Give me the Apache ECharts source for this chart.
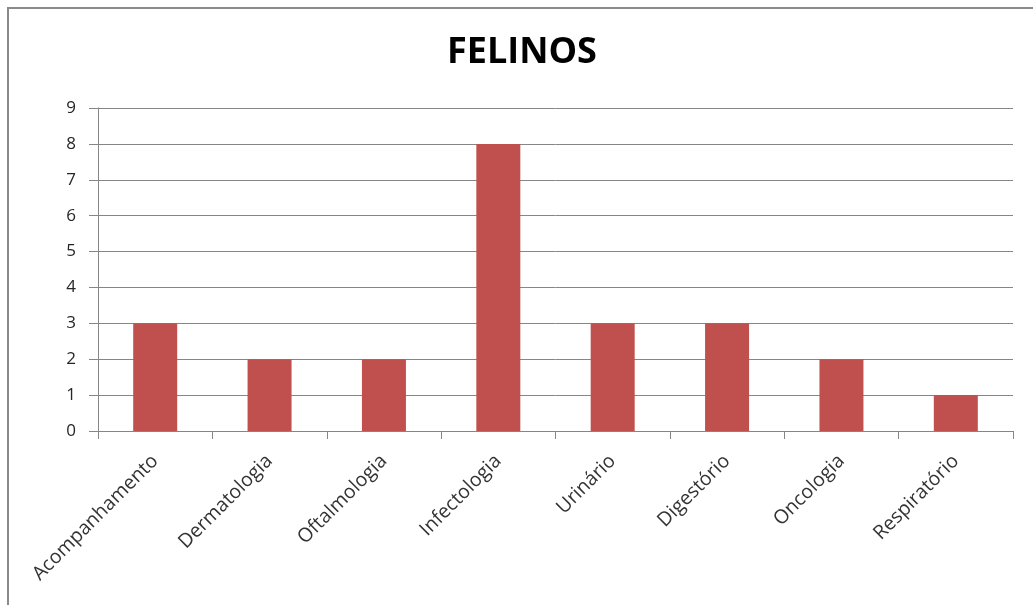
<!DOCTYPE html>
<html>
<head>
<meta charset="utf-8">
<script src="https://cdn.jsdelivr.net/npm/echarts@6/dist/echarts.min.js"></script>
<style>html,body{margin:0;padding:0;background:#fff;}#c{width:1033px;height:605px;}</style>
</head>
<body>
<div id="c"></div>
<script>
const categories = ['Acompanhamento','Dermatologia','Oftalmologia','Infectologia','Urinário','Digestório','Oncologia','Respiratório'];
const values = [3,2,2,8,3,3,2,1];
const yTicks = [0,1,2,3,4,5,6,7,8,9];

const chart = echarts.init(document.getElementById('c'));
chart.setOption({
  animation: false,
  backgroundColor: '#fff',
  title: {
    text: 'FELINOS', left: 442, top: 30,
    textStyle: { fontFamily: 'Open Sans', fontSize: 36, fontWeight: 'bold', color: '#000' }
  },
  graphic: [{
    type: 'rect', shape: { x: 8, y: 8, width: 1100, height: 700 },
    style: { fill: 'none', stroke: '#8a8a8a', lineWidth: 2 }, silent: true
  }],
  grid: { left: 98, right: 20, top: 108, bottom: 174 },
  xAxis: {
    type: 'category', data: categories,
    axisLine: { lineStyle: { color: '#868686', width: 1 } },
    axisTick: { show: true, alignWithLabel: false, length: 8, lineStyle: { color: '#868686' } },
    axisLabel: { rotate: 45, interval: 0, margin: 27, fontFamily: 'Open Sans', fontSize: 19.5, color: '#333333' }
  },
  yAxis: {
    type: 'value', min: yTicks[0], max: yTicks[yTicks.length-1], interval: 1,
    axisLine: { show: true, lineStyle: { color: '#868686' } },
    axisTick: { show: true, length: 9, lineStyle: { color: '#868686' } },
    axisLabel: { margin: 22, fontFamily: 'Open Sans', fontSize: 17, color: '#262626' },
    splitLine: { lineStyle: { color: '#868686', width: 1 } }
  },
  series: [{
    type: 'bar', data: values, barWidth: 44,
    itemStyle: { color: '#C0504D' }
  }]
});
</script>
</body>
</html>
